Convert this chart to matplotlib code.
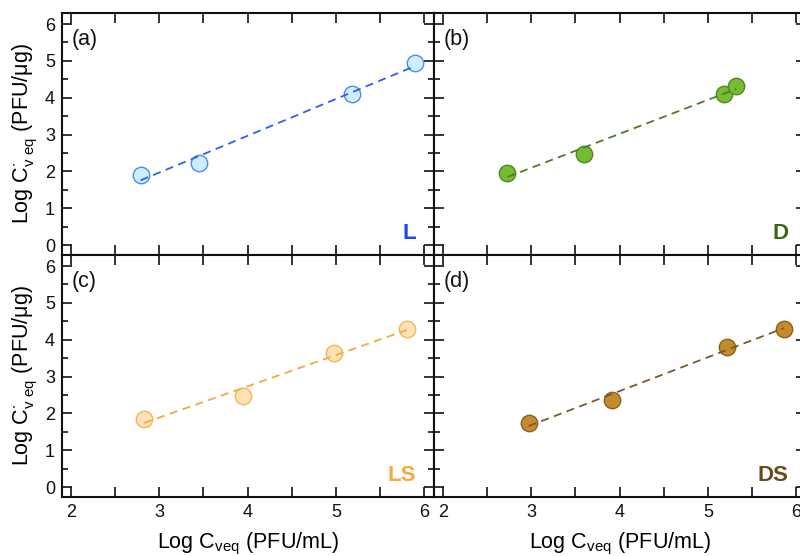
import numpy as np
import matplotlib
matplotlib.use("Agg")
import matplotlib.pyplot as plt
from matplotlib.ticker import MultipleLocator

plt.rcParams['font.family'] = ['Liberation Sans', 'DejaVu Sans']
plt.rcParams['mathtext.fontset'] = 'custom'
plt.rcParams['mathtext.rm'] = 'Liberation Sans'
plt.rcParams['mathtext.it'] = 'Liberation Sans'

# Data
L_x = [2.79, 3.45, 5.18, 5.90]
L_y = [1.91, 2.23, 4.11, 4.93]
D_x = [2.73, 3.60, 5.18, 5.32]
D_y = [1.96, 2.48, 4.09, 4.31]
LS_x = [2.83, 3.95, 4.98, 5.80]
LS_y = [1.85, 2.48, 3.65, 4.28]
DS_x = [2.97, 3.91, 5.22, 5.86]
DS_y = [1.74, 2.37, 3.81, 4.30]

panel_labels = ['(a)', '(b)', '(c)', '(d)']
names = ['L', 'D', 'LS', 'DS']
xs = [L_x, D_x, LS_x, DS_x]
ys = [L_y, D_y, LS_y, DS_y]
faces = ['#cdeeff', '#77bb33', '#fde2b6', '#c48a2e']
edges = ['#4a8cf0', '#4d8a26', '#f4b45a', '#8a6020']
lines = ['#2f5ff0', '#4f7a2a', '#f5a940', '#7a5a2a']
txtcol = ['#1a48ff', '#3d6614', '#f5a940', '#6b4a1a']

fig = plt.figure(figsize=(8, 5.56), dpi=100)
W = 0.465
lefts = [0.0775, 0.5425]
bottoms = [0.5414, 0.1061]
H = 0.4353

for i in range(4):
    r, c = divmod(i, 2)
    ax = fig.add_axes([lefts[c], bottoms[r], W, H])
    x = np.array(xs[i]); y = np.array(ys[i])
    k, b = np.polyfit(x, y, 1)
    xl = np.array([x.min(), x.max()])
    ax.plot(xl, k * xl + b, color=lines[i], lw=1.3, dashes=(4.5, 3), zorder=3)
    ax.scatter(x, y, s=140, facecolor=faces[i], edgecolor=edges[i], lw=1.0, zorder=2)
    ax.set_xlim(1.9, 6.11)
    ax.set_ylim(-0.27, 6.3)
    ax.xaxis.set_major_locator(MultipleLocator(1))
    ax.xaxis.set_minor_locator(MultipleLocator(0.5))
    ax.yaxis.set_major_locator(MultipleLocator(1))
    ax.yaxis.set_minor_locator(MultipleLocator(0.5))
    ax.tick_params(which='both', direction='in', top=True, right=True, width=1.2, labelsize=13, colors='#111111')
    ax.tick_params(which='major', length=7, pad=5)
    ax.tick_params(axis='y', which='minor', length=4.5)
    ax.tick_params(axis='x', which='minor', length=7)
    for s in ax.spines.values():
        s.set_linewidth(1.5)
        s.set_color('#111111')
    if r == 0:
        ax.tick_params(labelbottom=False)
    else:
        ax.set_xlabel(r'Log C$_{\mathrm{veq}}$ (PFU/mL)', fontsize=15.5, labelpad=7)
    if c == 1:
        ax.tick_params(labelleft=False)
    else:
        ax.set_ylabel(r'Log C$^{\bullet}_{\mathrm{v\ eq}}$ (PFU/$\mathrm{\mu}$g)', fontsize=15.5, labelpad=4)
    ax.text(0.025, 0.935, panel_labels[i], transform=ax.transAxes, fontsize=15.5, va='top', ha='left', color='#111111')
    ax.text(0.952, 0.045, names[i], transform=ax.transAxes, fontsize=16, fontweight='bold',
            va='bottom', ha='right', color=txtcol[i])

fig.savefig('out.png', dpi=100)
